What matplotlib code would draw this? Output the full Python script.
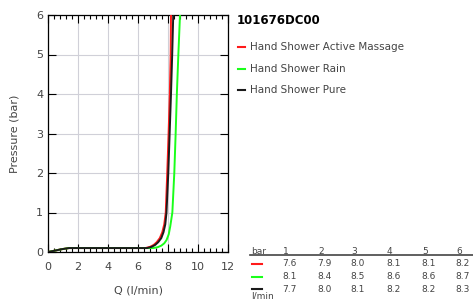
"""Pressure vs flow chart for hand shower 101676DC00."""
import matplotlib

matplotlib.use("Agg")
import matplotlib.pyplot as plt  # noqa: E402
from matplotlib.ticker import MultipleLocator  # noqa: E402

TITLE = "101676DC00"
SERIES = ["Hand Shower Active Massage", "Hand Shower Rain", "Hand Shower Pure"]
COLORS = ["#ff1a1a", "#1aff1a", "#1a1a1a"]

# curves: flow (l/min), pressure (bar)
massage_q = [0, 0.4, 0.9, 1.4, 6.5, 6.8, 7.05, 7.25, 7.45, 7.62, 7.75, 7.85, 7.95, 8.04, 8.12, 8.18, 8.2]
massage_p = [0, 0.03, 0.07, 0.1, 0.1, 0.13, 0.18, 0.25, 0.35, 0.5, 0.7, 1.0, 2.0, 3.0, 4.0, 5.0, 6.0]
rain_q = [0, 0.4, 0.9, 1.4, 7.0, 7.3, 7.55, 7.75, 7.9, 8.05, 8.15, 8.29, 8.42, 8.51, 8.59, 8.69, 8.8]
rain_p = [0, 0.03, 0.07, 0.1, 0.1, 0.12, 0.16, 0.22, 0.3, 0.45, 0.65, 1.0, 2.0, 3.0, 4.0, 5.0, 6.0]
pure_q = [0, 0.4, 0.9, 1.4, 6.6, 6.9, 7.15, 7.35, 7.55, 7.7, 7.82, 7.9, 8.02, 8.11, 8.2, 8.28, 8.35]
pure_p = [0, 0.03, 0.07, 0.1, 0.1, 0.13, 0.18, 0.25, 0.35, 0.5, 0.7, 1.0, 2.0, 3.0, 4.0, 5.0, 6.0]

TABLE_BAR = [1, 2, 3, 4, 5, 6]
TABLE_ROWS = [
    [7.6, 7.9, 8.0, 8.1, 8.1, 8.2],
    [8.1, 8.4, 8.5, 8.6, 8.6, 8.7],
    [7.7, 8.0, 8.1, 8.2, 8.2, 8.3],
]

TEXT = "#444444"

fig = plt.figure(figsize=(4.73, 2.99), dpi=100, facecolor="white")
W, H = 473, 299
ax = fig.add_axes([48 / W, 1 - 252 / H, 180 / W, 237 / H])

for q, p, color in zip([massage_q, rain_q, pure_q], [massage_p, rain_p, pure_p], COLORS):
    ax.plot(q, p, color=color, linewidth=1.4, zorder=3, solid_joinstyle="round")

ax.set_xlim(0, 12)
ax.set_ylim(0, 6)
ax.xaxis.set_major_locator(MultipleLocator(2))
ax.xaxis.set_minor_locator(MultipleLocator(0.4))
ax.yaxis.set_major_locator(MultipleLocator(1))
ax.tick_params(which="both", direction="in", top=True, right=True,
               labelsize=8, labelcolor=TEXT, color="black")
ax.tick_params(which="major", length=6, width=0.8)
ax.tick_params(which="minor", length=3, width=0.8)
ax.tick_params(axis="x", pad=7)
ax.grid(True, which="major", color="#d0d0d8", linewidth=0.8)
ax.set_axisbelow(True)
ax.set_xlabel("Q (l/min)", fontsize=8, color=TEXT, labelpad=10)
ax.set_ylabel("Pressure (bar)", fontsize=8, color=TEXT, labelpad=12)
for spine in ax.spines.values():
    spine.set_linewidth(0.9)

# title and legend on the right
fig.text(237 / W, 1 - 20 / H, TITLE, fontsize=8.5, fontweight="bold",
         color="black", va="center")
for i, (name, color) in enumerate(zip(SERIES, COLORS)):
    y = 1 - (47 + i * 21.5) / H
    fig.add_artist(plt.Line2D([238 / W, 245 / W], [y, y], color=color, linewidth=1.5))
    fig.text(250 / W, y, name, fontsize=7.5, color=TEXT, va="center")

# table of flow at each pressure
col_x = [283, 318, 351, 387, 422, 456]
fig.text(251 / W, 1 - 251 / H, "bar", fontsize=6.5, color=TEXT, va="center")
for x, b in zip(col_x, TABLE_BAR):
    fig.text(x / W, 1 - 251 / H, str(b), fontsize=6.5, color=TEXT, va="center")
fig.add_artist(plt.Line2D([250 / W, 1.0], [1 - 255 / H, 1 - 255 / H],
                          color="#444444", linewidth=1.2))
for r, (row, color) in enumerate(zip(TABLE_ROWS, COLORS)):
    y = 1 - (264 + r * 12.5) / H
    fig.add_artist(plt.Line2D([252 / W, 262 / W], [y, y], color=color, linewidth=1.5))
    for x, v in zip(col_x, row):
        fig.text((x - 1) / W, y, f"{v:.1f}", fontsize=6.5, color=TEXT, va="center")
fig.text(251 / W, 1 - 296 / H, "l/min", fontsize=6.5, color=TEXT, va="center")

fig.savefig("out.png", dpi=100, facecolor="white")
